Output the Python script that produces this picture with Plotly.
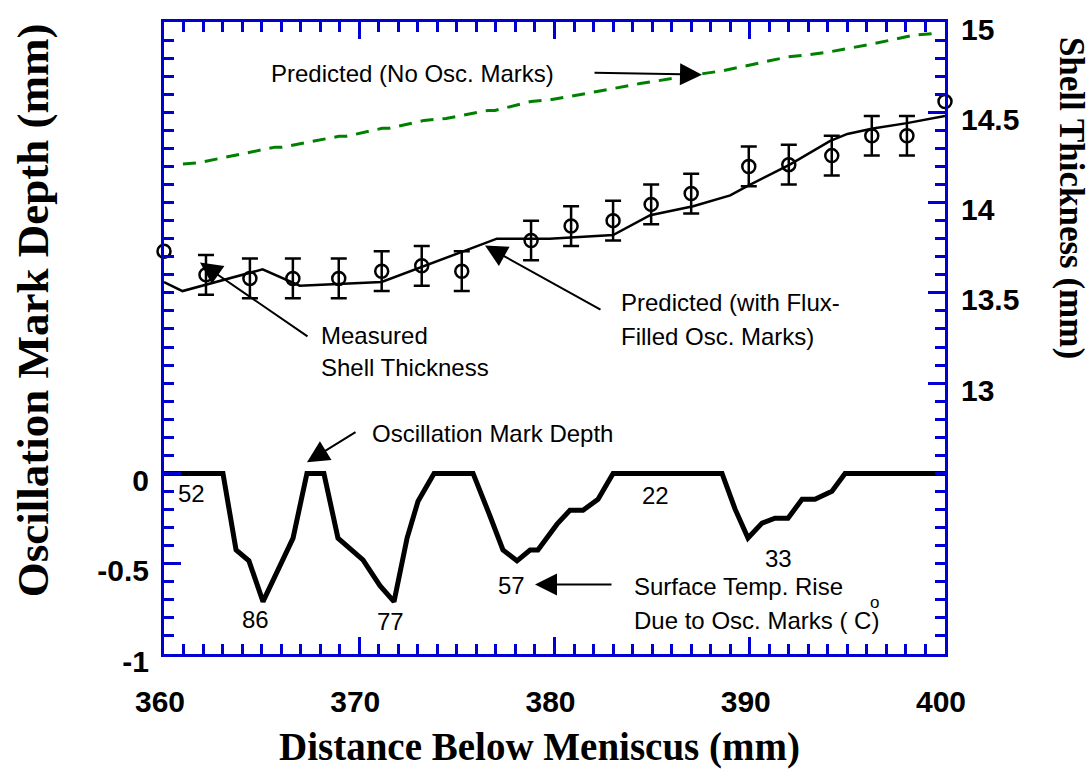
import plotly.graph_objects as go

# ---------------- data ----------------
# Oscillation mark depth profile (left axis, mm)
depth_x = [360.0, 363.02, 363.69, 364.35, 365.07, 365.84, 366.61, 367.32, 368.19,
           368.91, 369.53, 370.19, 371.06, 371.78, 372.45, 373.01, 373.83, 375.83,
           376.70, 377.36, 378.08, 378.75, 379.15, 380.13, 380.79, 381.46, 382.23,
           383.0, 388.58, 389.25, 389.91, 390.63, 391.29, 391.96, 392.68, 393.34,
           394.21, 394.88, 400.0]
depth_y = [0, 0, -0.424, -0.484, -0.71, -0.539, -0.358, 0, 0,
           -0.358, -0.418, -0.479, -0.622, -0.71, -0.358, -0.154, 0, 0,
           -0.237, -0.424, -0.484, -0.424, -0.424, -0.281, -0.204, -0.204, -0.143,
           0, 0, -0.198, -0.358, -0.275, -0.248, -0.248, -0.143, -0.143,
           -0.099, 0, 0]

# Measured shell thickness (right axis, mm) with error bars
meas_x = [360.0, 362.15, 364.4, 366.6, 368.95, 371.15, 373.2, 375.25, 378.8, 380.85,
          383.0, 384.95, 387.0, 389.95, 392.0, 394.2, 396.25, 398.05, 400.0]
meas_y = [13.73, 13.60, 13.58, 13.58, 13.58, 13.62, 13.65, 13.62, 13.79, 13.87,
          13.90, 13.99, 14.05, 14.20, 14.21, 14.26, 14.37, 14.37, 14.56]
meas_err = [0, 0.11, 0.11, 0.11, 0.11, 0.11, 0.11, 0.11, 0.11, 0.11,
            0.11, 0.11, 0.11, 0.11, 0.11, 0.11, 0.11, 0.11, 0]

# Predicted shell thickness with flux-filled oscillation marks
pred_x = [360.0, 360.95, 365.05, 366.95, 371.15, 377.05, 379.75, 383.0, 384.9,
          387.1, 389.0, 389.85, 392.05, 394.1, 395.0, 396.3, 398.05, 400.0]
pred_y = [13.56, 13.51, 13.63, 13.54, 13.56, 13.80, 13.80, 13.82, 13.93,
          13.98, 14.04, 14.09, 14.21, 14.34, 14.38, 14.41, 14.44, 14.48]

# Predicted shell thickness without oscillation marks
nomark_x = [360.97, 361.69, 365.69, 366.05, 368.97, 369.33, 371.17, 371.52, 373.32,
            374.44, 376.59, 376.95, 378.80, 379.87, 382.18, 384.38, 387.61, 388.63,
            391.96, 392.98, 394.11, 396.31, 398.46, 399.74]
nomark_y = [14.213, 14.219, 14.307, 14.307, 14.367, 14.367, 14.411, 14.411, 14.455,
            14.466, 14.510, 14.510, 14.560, 14.571, 14.615, 14.659, 14.714, 14.730,
            14.807, 14.818, 14.835, 14.879, 14.928, 14.939]

# Surface temperature rise labels at each mark (deg C)
temp_labels = ["52", "86", "77", "57", "22", "33"]
temp_x = [361.4, 364.7, 371.6, 377.8, 385.15, 391.45]
temp_y = [-0.11, -0.81, -0.82, -0.62, -0.12, -0.47]

# Axis ticks
x_major = [360, 365, 370, 375, 380, 385, 390, 395, 400]
x_major_text = ["360", "", "370", "", "380", "", "390", "", "400"]
x_minor = [360 + i for i in range(41)]
yl_major = [-1, -0.5, 0, 0.5, 1, 1.5, 2, 2.5]
yl_major_text = ["-1", "-0.5", "0", "", "", "", "", ""]
yl_minor = [round(-1 + 0.1 * i, 2) for i in range(36)]
yr_major = [11.5, 12, 12.5, 13, 13.5, 14, 14.5, 15]
yr_major_text = ["", "", "", "13", "13.5", "14", "14.5", "15"]
yr_minor = [round(11.5 + 0.1 * i, 2) for i in range(36)]

# ---------------- styling ----------------
BLUE = "#0000D2"
SANS = "Liberation Sans, Arial, Helvetica, sans-serif"
SERIF = "Liberation Serif, Times New Roman, serif"
TXT = 24

# plot-area geometry (pixels) used only to place annotations
L, R, T, B = 164, 945, 18, 654
W, H = 1091, 773


def px2x(px):
    return 360 + (px - L) / (R - L) * 40


def py2y(py):
    return 2.5 - (py - T) / (B - T) * 3.5


fig = go.Figure()

fig.add_trace(go.Scatter(x=depth_x, y=depth_y, mode="lines",
                         line=dict(color="black", width=5), yaxis="y",
                         hoverinfo="skip"))

fig.add_trace(go.Scatter(x=nomark_x, y=nomark_y, mode="lines",
                         line=dict(color="#008000", width=3, dash="13px,9px"),
                         yaxis="y2"))

fig.add_trace(go.Scatter(x=pred_x, y=pred_y, mode="lines",
                         line=dict(color="black", width=2.5), yaxis="y2"))

ex = [x for x, e in zip(meas_x, meas_err) if e > 0]
ey = [y for y, e in zip(meas_y, meas_err) if e > 0]
ee = [e for e in meas_err if e > 0]
fig.add_trace(go.Scatter(x=ex, y=ey, mode="markers", yaxis="y2",
                         marker=dict(symbol="circle-open", size=13, color="black",
                                     line=dict(width=2.5, color="black")),
                         error_y=dict(type="data", array=ee, visible=True,
                                      color="black", thickness=2.5, width=8)))
nx = [x for x, e in zip(meas_x, meas_err) if e == 0]
ny = [y for y, e in zip(meas_y, meas_err) if e == 0]
fig.add_trace(go.Scatter(x=nx, y=ny, mode="markers", yaxis="y2", cliponaxis=False,
                         marker=dict(symbol="circle-open", size=13, color="black",
                                     line=dict(width=2.5, color="black"))))

tickfont = dict(family=SANS, size=30, color="black", weight="bold")

fig.update_layout(
    width=W, height=H,
    margin=dict(l=L, r=W - R, t=T, b=H - B, pad=0),
    plot_bgcolor="white", paper_bgcolor="white",
    showlegend=False,
    xaxis=dict(range=[360, 400], showgrid=False, zeroline=False,
               showline=True, linecolor=BLUE, linewidth=3, mirror="ticks",
               tickmode="array", tickvals=x_major, ticktext=x_major_text,
               ticks="inside", ticklen=17, tickwidth=2.5, tickcolor=BLUE,
               minor=dict(tickmode="array", tickvals=x_minor, ticks="inside",
                          ticklen=10, tickwidth=2.5, tickcolor=BLUE),
               tickfont=tickfont, ticklabelstandoff=19, ticklabelshift=-4,
               ticklabeloverflow="allow"),
    yaxis=dict(range=[-1, 2.5], showgrid=False, zeroline=False,
               showline=True, linecolor=BLUE, linewidth=3,
               tickmode="array", tickvals=yl_major, ticktext=yl_major_text,
               ticks="inside", ticklen=17, tickwidth=2.5, tickcolor=BLUE,
               minor=dict(tickmode="array", tickvals=yl_minor, ticks="inside",
                          ticklen=10, tickwidth=2.5, tickcolor=BLUE),
               tickfont=tickfont, ticklabelstandoff=6, ticklabelshift=7,
               ticklabeloverflow="allow"),
    yaxis2=dict(range=[11.5, 15], overlaying="y", side="right", anchor="x",
                showgrid=False, zeroline=False,
                showline=True, linecolor=BLUE, linewidth=3,
                tickmode="array", tickvals=yr_major, ticktext=yr_major_text,
                ticks="inside", ticklen=17, tickwidth=2.5, tickcolor=BLUE,
                minor=dict(tickmode="array", tickvals=yr_minor, ticks="inside",
                           ticklen=10, tickwidth=2.5, tickcolor=BLUE),
                tickfont=tickfont, ticklabelstandoff=7, ticklabelshift=7,
                ticklabeloverflow="allow"),
)

ann = []
tfont = dict(family=SANS, size=TXT, color="black")

# axis titles
ann.append(dict(text="Distance Below Meniscus (mm)", xref="paper", yref="paper",
                x=(539 - L) / (R - L), y=(B - 748) / (B - T), showarrow=False,
                xanchor="center", yanchor="middle",
                font=dict(family=SERIF, size=39, color="black", weight="bold")))
ann.append(dict(text="Oscillation Mark Depth (mm)", xref="paper", yref="paper",
                x=(33 - L) / (R - L), y=(B - 308) / (B - T), showarrow=False,
                textangle=-90, xanchor="center", yanchor="middle",
                font=dict(family=SERIF, size=45, color="black", weight="bold")))
ann.append(dict(text="Shell Thickness (mm)", xref="paper", yref="paper",
                x=(1071 - L) / (R - L), y=(B - 195) / (B - T), showarrow=False,
                textangle=90, xanchor="center", yanchor="middle",
                font=dict(family=SERIF, size=35, color="black", weight="bold")))

# text labels (left edge px, centre py)
texts = [
    ("Predicted (No Osc. Marks)", 269, 70),
    ("Predicted (with Flux-", 619, 300),
    ("Filled Osc. Marks)", 619, 334),
    ("Measured", 319, 333),
    ("Shell Thickness", 319, 366),
    ("Oscillation Mark Depth", 370, 432),
    ("Surface Temp. Rise", 632, 586),
    ("Due to Osc. Marks ( C)", 632, 620),
]
for t, px, py in texts:
    ann.append(dict(text=t, x=px2x(px), y=py2y(py), xref="x", yref="y",
                    showarrow=False, xanchor="left", yanchor="middle", font=tfont))
ann.append(dict(text="o", x=px2x(874), y=py2y(602), xref="x", yref="y",
                showarrow=False, xanchor="center", yanchor="middle",
                font=dict(family=SANS, size=17, color="black")))

for t, x, y in zip(temp_labels, temp_x, temp_y):
    ann.append(dict(text=t, x=x, y=y, xref="x", yref="y", showarrow=False,
                    xanchor="center", yanchor="middle", font=tfont))

# arrows: (tail px, tail py, head px, head py)
arrows = [
    (593, 69, 702, 71),
    (602, 308, 485, 243),
    (309, 335, 200, 260),
    (357, 430, 307, 461),
    (613, 584, 535, 584),
]
for tx, ty, hx, hy in arrows:
    ann.append(dict(text="", x=px2x(hx), y=py2y(hy), xref="x", yref="y",
                    ax=tx - hx, ay=ty - hy, showarrow=True, arrowhead=2,
                    arrowsize=2.2, arrowwidth=2, arrowcolor="black",
                    standoff=0, startstandoff=0))

fig.update_layout(annotations=ann)

fig.write_html("out.html")
